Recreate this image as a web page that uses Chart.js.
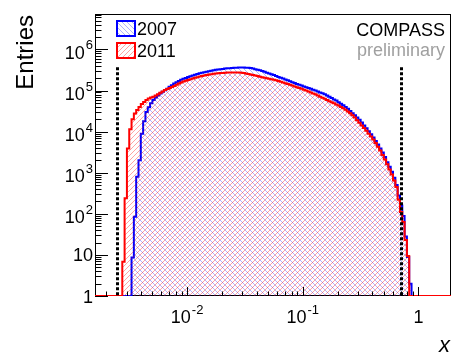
<!DOCTYPE html>
<html lang="en">

<head>
  <title>COMPASS x distribution 2007 vs 2011</title>
  <script src="https://cdn.jsdelivr.net/npm/chart.js"></script>
  <style>
    body { margin: 0; background: #fff; }
  </style>
</head>

<body>
  <canvas id="myChart" width="462" height="361"></canvas>
  <script>
    // lower bin edges in log10(x); 0.02 wide bins, plus the empty ranges at both ends
    const logEdges = [-2.80,
      -2.56, -2.54, -2.52, -2.50, -2.48, -2.46, -2.44, -2.42, -2.40, -2.38,
      -2.36, -2.34, -2.32, -2.30, -2.28, -2.26, -2.24, -2.22, -2.20, -2.18,
      -2.16, -2.14, -2.12, -2.10, -2.08, -2.06, -2.04, -2.02, -2.00, -1.98,
      -1.96, -1.94, -1.92, -1.90, -1.88, -1.86, -1.84, -1.82, -1.80, -1.78,
      -1.76, -1.74, -1.72, -1.70, -1.68, -1.66, -1.64, -1.62, -1.60, -1.58,
      -1.56, -1.54, -1.52, -1.50, -1.48, -1.46, -1.44, -1.42, -1.40, -1.38,
      -1.36, -1.34, -1.32, -1.30, -1.28, -1.26, -1.24, -1.22, -1.20, -1.18,
      -1.16, -1.14, -1.12, -1.10, -1.08, -1.06, -1.04, -1.02, -1.00, -0.98,
      -0.96, -0.94, -0.92, -0.90, -0.88, -0.86, -0.84, -0.82, -0.80, -0.78,
      -0.76, -0.74, -0.72, -0.70, -0.68, -0.66, -0.64, -0.62, -0.60, -0.58,
      -0.56, -0.54, -0.52, -0.50, -0.48, -0.46, -0.44, -0.42, -0.40, -0.38,
      -0.36, -0.34, -0.32, -0.30, -0.28, -0.26, -0.24, -0.22, -0.20, -0.18,
      -0.16, -0.14, -0.12, -0.10, -0.08, -0.06,
      0.29];

    const entries2007 = [0,
      0, 0, 0, 0, 8.7, 85, 800, 2000, 8900, 18000,
      30000, 39000, 49000, 59000, 68000, 76000, 85000, 93000, 102000, 111000,
      123000, 135000, 148000, 160000, 172000, 182000, 193000, 203000, 213000, 223000,
      233000, 242000, 252000, 262000, 271000, 280000, 288000, 297000, 305000, 312000,
      319000, 326000, 332000, 337000, 343000, 347000, 351000, 355000, 359000, 361000,
      363000, 363000, 363000, 361000, 357000, 353000, 343000, 332000, 321000, 310000,
      298000, 285000, 273000, 261000, 249000, 238000, 227000, 215000, 206000, 196000,
      186000, 177000, 168000, 160000, 152000, 145000, 138000, 132000, 126000, 120000,
      115000, 110000, 105000, 100000, 95000, 90000, 86000, 81000, 76000, 71000,
      66000, 61000, 57000, 52000, 48000, 44000, 40000, 36000, 32000, 28000,
      25000, 22000, 19400, 16700, 14200, 12100, 10200, 8600, 7200, 5900,
      4900, 3900, 3100, 2400, 1800, 1400, 1050, 760, 500, 280,
      160, 89, 28, 8.9, 2, 0,
      0];

    const entries2011 = [0,
      6.8, 240, 3900, 11500, 20000, 27500, 33500, 40000, 47000, 53000,
      59000, 64000, 68000, 71000, 76000, 81000, 88000, 95000, 103000, 109000,
      116000, 122000, 130000, 139000, 149000, 157000, 165000, 173000, 181000, 189000,
      197000, 205000, 212000, 219000, 227000, 233000, 240000, 247000, 251000, 255000,
      259000, 262000, 267000, 268000, 271000, 274000, 276000, 277000, 277000, 277000,
      276000, 273000, 267000, 261000, 253000, 247000, 240000, 233000, 225000, 218000,
      211000, 204000, 198000, 193000, 188000, 183000, 177000, 170000, 164000, 157000,
      151000, 144000, 138000, 132000, 126000, 120000, 116000, 111000, 105000, 100000,
      95000, 90000, 85000, 81000, 76000, 71000, 67000, 63000, 59000, 55000,
      52000, 49000, 46000, 43000, 40000, 37000, 34000, 31000, 28000, 25000,
      22000, 19000, 16500, 14200, 12200, 10500, 8900, 7600, 6400, 5300,
      4300, 3500, 2700, 2100, 1600, 1200, 910, 650, 450, 220,
      110, 63, 23, 9.4, 0, 0,
      0];

    const xRange = [0.0016, 1.91];
    const yRange = [1, 7.3e6];
    const cutX = [0.0025, 0.7];
    const cutHeight = 3.7e5;
    const xTicks = [0.01, 0.1, 1];
    const xTickLabels = [['10', '-2'], ['10', '-1'], ['1', '']];
    const yTicks = [1, 10, 100, 1e3, 1e4, 1e5, 1e6];
    const yTickLabels = [['1', ''], ['10', ''], ['10', '2'], ['10', '3'], ['10', '4'], ['10', '5'], ['10', '6']];

    const FONT = '"Liberation Sans", Arial, sans-serif';
    const canvas = document.getElementById('myChart');
    const ctx = canvas.getContext('2d');

    function hatch(color, rising) {
      const s = 5;
      const c = document.createElement('canvas');
      c.width = s; c.height = s;
      const g = c.getContext('2d');
      g.strokeStyle = color;
      g.lineWidth = 1;
      g.beginPath();
      for (const k of [-s, 0, s]) {
        if (rising) { g.moveTo(k, s); g.lineTo(k + s, 0); }
        else { g.moveTo(k, 0); g.lineTo(k + s, s); }
      }
      g.stroke();
      return ctx.createPattern(c, 'repeat');
    }

    const blueHatch = hatch('rgba(0,0,255,0.3)', false);
    const redHatch = hatch('rgba(255,0,0,0.36)', true);

    // empty bins sit on the floor of the log axis, like ROOT draws them
    function toPoints(counts) {
      return logEdges.map((e, i) => ({ x: Math.pow(10, e), y: counts[i] > 0 ? counts[i] : yRange[0] }));
    }

    function drawPow(c, base, exp, x, y, align) {
      c.font = '18px ' + FONT;
      const wb = c.measureText(base).width;
      c.font = '13px ' + FONT;
      const we = exp ? c.measureText(exp).width + 1 : 0;
      const w = wb + we;
      let x0 = align === 'right' ? x - w : x - w / 2;
      c.textAlign = 'left';
      c.font = '18px ' + FONT;
      c.fillText(base, x0, y);
      if (exp) {
        c.font = '13px ' + FONT;
        c.fillText(exp, x0 + wb + 1, y - 9.5);
      }
    }

    const rootStyle = {
      id: 'rootStyle',
      beforeDatasetsDraw(chart) {
        const { ctx: c, chartArea: a } = chart;
        c.save();
        c.strokeStyle = '#000';
        c.lineWidth = 1;
        c.strokeRect(a.left + 0.5, a.top + 0.5, a.right - a.left - 1, a.bottom - a.top - 1);
        c.restore();
      },
      afterDatasetsDraw(chart) {
        const { ctx: c, chartArea: a } = chart;
        const xs = chart.scales.x, ys = chart.scales.y;
        c.save();

        // cut lines
        c.strokeStyle = '#000';
        c.lineWidth = 3;
        c.setLineDash([3, 2]);
        cutX.forEach(v => {
          const px = Math.round(xs.getPixelForValue(v)) + 0.5;
          c.beginPath();
          c.moveTo(px, ys.getPixelForValue(cutHeight));
          c.lineTo(px, ys.getPixelForValue(yRange[0]));
          c.stroke();
        });
        c.setLineDash([]);

        // ticks
        c.lineWidth = 1;
        c.beginPath();
        for (let n = -3; n <= 0; n++) {
          for (let k = 1; k <= 9; k++) {
            const v = k * Math.pow(10, n);
            if (v < xRange[0] || v > xRange[1]) continue;
            const px = Math.round(xs.getPixelForValue(v)) + 0.5;
            c.moveTo(px, a.bottom);
            c.lineTo(px, a.bottom - (k === 1 ? 9 : 4.5));
          }
        }
        for (let n = 0; n <= 6; n++) {
          for (let k = 1; k <= 9; k++) {
            const v = k * Math.pow(10, n);
            if (v < yRange[0] || v > yRange[1]) continue;
            const py = Math.round(ys.getPixelForValue(v)) + 0.5;
            c.moveTo(a.left, py);
            c.lineTo(a.left + (k === 1 ? 13 : 6.5), py);
          }
        }
        c.stroke();

        // tick labels
        c.fillStyle = '#000';
        c.textBaseline = 'alphabetic';
        xTicks.forEach((v, i) => {
          drawPow(c, xTickLabels[i][0], xTickLabels[i][1], xs.getPixelForValue(v), a.bottom + 27, 'center');
        });
        yTicks.forEach((v, i) => {
          const lab = yTickLabels[i];
          drawPow(c, lab[0], lab[1], a.left - 2, ys.getPixelForValue(v) + (lab[1] ? 9.5 : 6.5), 'right');
        });

        // axis titles
        c.font = 'italic 22px ' + FONT;
        c.textAlign = 'right';
        c.fillText('x', 450, 352);
        c.save();
        c.translate(33, 15);
        c.rotate(-Math.PI / 2);
        c.font = '24px ' + FONT;
        c.textAlign = 'right';
        c.fillText('Entries', 0, 0);
        c.restore();

        // legend
        const items = [chart.data.datasets[0], chart.data.datasets[1]];
        items.forEach((ds, i) => {
          const y0 = 21 + i * 22;
          c.fillStyle = ds.backgroundColor;
          c.fillRect(117, y0, 18, 15);
          c.strokeStyle = ds.borderColor;
          c.lineWidth = 2;
          c.strokeRect(117, y0, 18, 15);
          c.fillStyle = '#000';
          c.font = '18px ' + FONT;
          c.textAlign = 'left';
          c.fillText(ds.label, 137, y0 + 13.5);
        });

        // experiment label
        c.textAlign = 'right';
        c.font = '18px ' + FONT;
        c.fillStyle = '#000';
        c.fillText('COMPASS', 445, 36);
        c.fillStyle = '#a0a0a0';
        c.fillText('preliminary', 445, 55.5);
        c.restore();
      }
    };

    new Chart(ctx, {
      type: 'line',
      data: {
        datasets: [{
          label: '2007',
          data: toPoints(entries2007),
          borderColor: '#0000ff',
          backgroundColor: blueHatch,
          borderWidth: 2,
          fill: 'start',
          stepped: 'before',
          pointRadius: 0,
          order: 1
        }, {
          label: '2011',
          data: toPoints(entries2011),
          borderColor: '#ff0000',
          backgroundColor: redHatch,
          borderWidth: 2,
          fill: 'start',
          stepped: 'before',
          pointRadius: 0,
          order: 0
        }]
      },
      options: {
        responsive: false,
        animation: false,
        devicePixelRatio: 1,
        layout: { padding: { left: 95, right: 11, top: 14, bottom: 65 } },
        plugins: { legend: { display: false }, tooltip: { enabled: false } },
        scales: {
          x: { type: 'logarithmic', min: xRange[0], max: xRange[1], display: false },
          y: { type: 'logarithmic', min: yRange[0], max: yRange[1], display: false }
        }
      },
      plugins: [rootStyle]
    });
  </script>
</body>

</html>
